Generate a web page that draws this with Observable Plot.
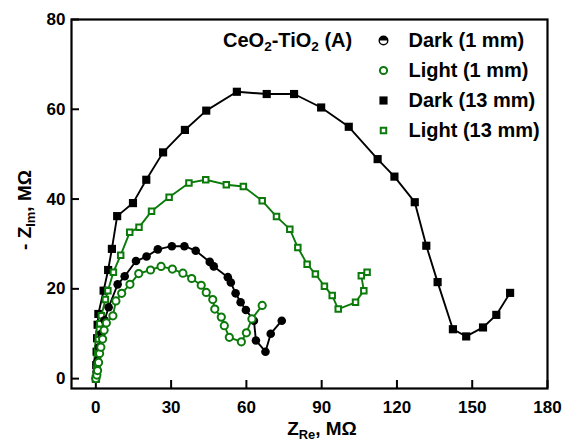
<!DOCTYPE html>
<html>
<head>
<meta charset="utf-8">
<script src="https://cdn.jsdelivr.net/npm/d3@7"></script>
<script src="https://cdn.jsdelivr.net/npm/@observablehq/plot@0.6"></script>
<style>
  html, body { margin: 0; padding: 0; background: #fff; }
  svg { display: block; }
</style>
</head>
<body>
<div id="chart"></div>
<script>
// Nyquist plots, CeO2-TiO2 (A): [Z_Re, -Z_Im] in MΩ
const darkThin = [[0,0],[0.3,1.5],[0.7,4],[1.3,7],[2.2,10],[3.5,13],[5.1,15.9],[8.7,21],[11.5,22.8],[16,26.2],[20.2,27.2],[24.7,28.8],[30.3,29.5],[35.3,29.5],[39.8,28.5],[45.4,26],[47,25],[52.6,22.6],[53.8,21.4],[55.7,19],[57.7,17],[59.8,15.3],[63,12.9],[63.8,8.5],[67.6,6],[69.7,10],[74.1,12.9]];
const lightThin = [[0,0],[0.4,0.8],[0.7,1.8],[1.1,3.6],[1.5,5.6],[2,7],[2.7,8.8],[3.3,10.8],[4.2,12.4],[6.8,14],[8,17.3],[10.3,19],[13.6,21],[17.1,23.4],[21.8,24.2],[26,25],[30.5,24.4],[34.7,23.5],[38.2,22.3],[42,20.8],[44,19.2],[46.6,17.6],[47.4,15.5],[50,13.7],[51.2,11.8],[53.2,9.2],[58,8.2],[60,10.2],[62.2,13.3],[66.3,16.3]];
const darkThick = [[0,0],[0.15,3],[0.3,6],[0.5,9],[0.7,12],[1,14.4],[3.1,19.6],[4.9,24.2],[6.4,28.9],[8.5,36.2],[14.8,39.1],[20.1,44.3],[26.8,50.4],[35.5,55.4],[44,59.7],[56.2,63.9],[68.1,63.4],[79,63.4],[89.8,60.4],[100.8,56.1],[112.3,48.9],[119,45],[127.1,39.3],[131.7,29.6],[136.2,21.5],[142.3,11],[147.6,9.4],[154.3,11.4],[159.6,14.2],[165.1,19.1]];
const lightThick = [[0.2,0],[0.3,1],[0.4,2],[0.5,3.3],[0.6,4.5],[0.7,5.5],[0.8,6.6],[0.9,7.7],[1,8.8],[1.2,9.9],[1.4,11],[1.6,12.2],[2.2,14],[3.8,17.6],[4.8,19.6],[7,23.7],[9.9,27.5],[13.5,32.6],[17.2,33.7],[22.2,37.3],[29.2,40.4],[37.1,43.6],[43.8,44.3],[52,43.2],[58.8,42.8],[66.3,39.6],[72,36.1],[77.3,33.3],[80.5,29.2],[84.2,25.5],[87.5,23.3],[91.1,20.6],[94.2,18.5],[96.6,15.5],[103.5,17],[106.8,19.6],[105.8,22.9],[108.1,23.7]];

const xTicks = [0, 30, 60, 90, 120, 150, 180];
const yTicks = [0, 20, 40, 60, 80];
const seriesNames = ["Dark (1 mm)", "Light (1 mm)", "Dark (13 mm)", "Light (13 mm)"];

const GREEN = "#0b7a0b";
const W = 565, H = 442;
const M = {top: 19, right: 18, bottom: 54, left: 71};
const plotW = W - M.left - M.right, plotH = H - M.top - M.bottom;

// upper half-disc, for the "Dark (1 mm)" legend glyph
const halfDisc = {
  draw(ctx, size) {
    const r = Math.sqrt(size / Math.PI);
    ctx.moveTo(-r, 0);
    ctx.arc(0, 0, r, Math.PI, 2 * Math.PI, false);
    ctx.closePath();
  }
};

const X = d => d[0], Y = d => d[1];

const legendMarks = [];
const legendStyles = [
  [{symbol: "circle", r: 4.3, fill: "white", stroke: "black", strokeWidth: 1.4}, {symbol: halfDisc, r: 4.3, fill: "black"}],
  [{symbol: "circle", r: 3.6, fill: "none", stroke: GREEN, strokeWidth: 2}],
  [{symbol: "square", r: 4.6, fill: "black"}],
  [{symbol: "square", r: 3.1, fill: "none", stroke: GREEN, strokeWidth: 2}]
];
seriesNames.forEach((name, i) => {
  for (const st of legendStyles[i]) {
    legendMarks.push(Plot.dot([0], {frameAnchor: "top-left", dx: 312, dy: 21 + 30 * i, ...st}));
  }
  legendMarks.push(Plot.text([name], {text: d => d, frameAnchor: "top-left", dx: 337, dy: 21 + 30 * i,
    textAnchor: "start", lineAnchor: "middle", fontSize: 20, fontWeight: "bold", fill: "black"}));
});

const svg = Plot.plot({
  width: W, height: H,
  marginTop: M.top, marginRight: M.right, marginBottom: M.bottom, marginLeft: M.left,
  style: {fontFamily: "'Liberation Sans', Arial, sans-serif", background: "white", color: "black"},
  x: {domain: [-9.7, 180]},
  y: {domain: [-2.2, 80]},
  marks: [
    Plot.axisX({ticks: xTicks, tickSize: 0, tickPadding: 12, fontSize: 17, fontWeight: "bold", label: null}),
    Plot.axisY({ticks: yTicks, tickSize: 0, tickPadding: 6, fontSize: 17, fontWeight: "bold", label: null}),
    // inward tick marks
    Plot.tickX(xTicks, {x: d => d, insetTop: plotH - 8, stroke: "black", strokeWidth: 2}),
    Plot.tickY(yTicks, {y: d => d, insetRight: plotW - 8, stroke: "black", strokeWidth: 2}),

    Plot.line(darkThick, {x: X, y: Y, stroke: "black", strokeWidth: 1.9}),
    Plot.dot(darkThick, {x: X, y: Y, symbol: "square", r: 4.6, fill: "black"}),

    Plot.line(lightThick, {x: X, y: Y, stroke: GREEN, strokeWidth: 1.9}),
    Plot.dot(lightThick, {x: X, y: Y, symbol: "square", r: 3.1, fill: "white", stroke: GREEN, strokeWidth: 2}),

    Plot.line(darkThin, {x: X, y: Y, stroke: "black", strokeWidth: 1.9}),
    Plot.dot(darkThin, {x: X, y: Y, symbol: "circle", r: 4.3, fill: "black"}),

    Plot.line(lightThin, {x: X, y: Y, stroke: GREEN, strokeWidth: 1.9}),
    Plot.dot(lightThin, {x: X, y: Y, symbol: "circle", r: 3.6, fill: "white", stroke: GREEN, strokeWidth: 2}),

    Plot.frame({stroke: "black", strokeWidth: 2.2}),
    ...legendMarks
  ]
});

// titles with subscripts
const s = d3.select(svg);
const font = "'Liberation Sans', Arial, sans-serif";
function subText(parent, parts, attrs) {
  const t = parent.append("text")
    .attr("font-family", font).attr("font-weight", "bold").attr("fill", "black");
  for (const [k, v] of Object.entries(attrs)) t.attr(k, v);
  let prevSub = false;
  for (const [str, sub] of parts) {
    const ts = t.append("tspan").text(str);
    if (sub) ts.attr("font-size", "0.68em").attr("dy", "0.28em");
    else if (prevSub) ts.attr("dy", "-0.19em");
    prevSub = sub;
  }
  return t;
}
// x title
subText(s, [["Z", false], ["Re", true], [", MΩ", false]],
  {x: 322, y: 435, "text-anchor": "middle", "font-size": 19});
// y title
subText(s, [["- Z", false], ["Im", true], [", MΩ", false]],
  {transform: "translate(31,210) rotate(-90)", "text-anchor": "middle", "font-size": 19});
// legend heading
subText(s, [["CeO", false], ["2", true], ["-TiO", false], ["2", true], [" (A)", false]],
  {x: 223, y: 47, "text-anchor": "start", "font-size": 20});

document.getElementById("chart").appendChild(svg);
</script>
</body>
</html>
